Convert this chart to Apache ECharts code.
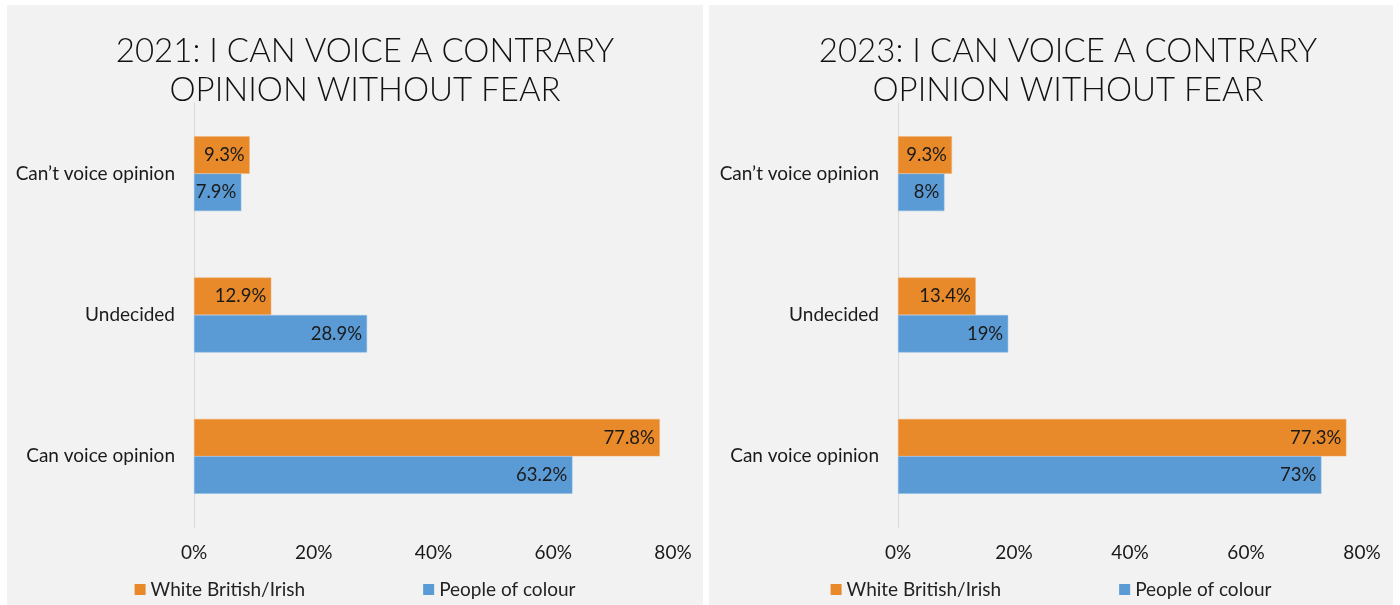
<!DOCTYPE html>
<html>
<head>
<meta charset="utf-8">
<script src="https://cdn.jsdelivr.net/npm/echarts@6/dist/echarts.min.js"></script>
<style>
  html, body { margin: 0; padding: 0; background: #ffffff; }
  body { width: 1400px; height: 605px; position: relative; overflow: hidden; }
  .panel { position: absolute; top: 5px; height: 600px; background: #f2f2f2; }
  #c2021 { left: 7px; width: 696px; }
  #c2023 { left: 709px; width: 684px; }
</style>
</head>
<body>
<div id="c2021" class="panel"></div>
<div id="c2023" class="panel"></div>
<script>
// Response categories, listed bottom to top along the category axis
const categories = ['Can voice opinion', 'Undecided', 'Can\u2019t voice opinion'];
const seriesNames = ['White British/Irish', 'People of colour'];
const xTicks = [0, 20, 40, 60, 80];

// Percentages per year, same order as categories
const white2021 = [77.8, 12.9, 9.3];
const colour2021 = [63.2, 28.9, 7.9];
const white2023 = [77.3, 13.4, 9.3];
const colour2023 = [73, 19, 8];

const ORANGE = '#e8892a';
const BLUE = '#5b9bd5';
const TEXT = '#1a1a1a';
const FONT = 'Lato, "Open Sans", sans-serif';

function buildOption(title, titleX, gridLeft, gridRight, white, colour) {
  const labelStyle = {
    show: true,
    position: 'insideRight',
    distance: 5,
    color: TEXT,
    fontFamily: FONT,
    fontSize: 18.5,
    formatter: p => p.value + '%'
  };
  return {
    backgroundColor: '#f2f2f2',
    animation: false,
    title: {
      text: title,
      left: titleX,
      top: 22,
      textAlign: 'center',
      textStyle: {
        fontFamily: 'Lato, "Open Sans", sans-serif',
        fontWeight: 300,
        fontSize: 33,
        lineHeight: 39,
        color: '#111111'
      }
    },
    legend: {
      data: seriesNames,
      bottom: 1,
      left: 'center',
      icon: 'rect',
      itemWidth: 11,
      itemHeight: 11,
      itemGap: 118,
      selectedMode: false,
      itemStyle: { borderWidth: 0 },
      textStyle: { fontFamily: FONT, fontSize: 19, color: '#222222' }
    },
    grid: { left: gridLeft, right: gridRight, top: 98, bottom: 78, containLabel: false },
    xAxis: {
      type: 'value',
      min: xTicks[0],
      max: xTicks[xTicks.length - 1],
      interval: xTicks[1] - xTicks[0],
      axisLine: { show: false },
      axisTick: { show: false },
      splitLine: { show: false },
      axisLabel: {
        margin: 16,
        color: TEXT,
        fontFamily: FONT,
        fontSize: 19,
        formatter: v => v + '%'
      }
    },
    yAxis: {
      type: 'category',
      data: categories,
      axisLine: { show: true, lineStyle: { color: '#d9d9d9', width: 1 } },
      axisTick: { show: false },
      axisLabel: {
        margin: 19,
        color: TEXT,
        fontFamily: FONT,
        fontSize: 19
      }
    },
    series: [
      {
        name: seriesNames[0],
        type: 'bar',
        data: white,
        barGap: '0%',
        barCategoryGap: '47%',
        itemStyle: { color: ORANGE, borderColor: '#f0b070', borderWidth: 0.5 },
        label: labelStyle
      },
      {
        name: seriesNames[1],
        type: 'bar',
        data: colour,
        barGap: '0%',
        barCategoryGap: '47%',
        itemStyle: { color: BLUE, borderColor: '#8fbbe3', borderWidth: 0.5 },
        label: labelStyle
      }
    ]
  };
}

const chart2021 = echarts.init(document.getElementById('c2021'), null, { renderer: 'canvas' });
chart2021.setOption(buildOption('2021: I CAN VOICE A CONTRARY\nOPINION WITHOUT FEAR', 353, 187, 30, white2021, colour2021));

const chart2023 = echarts.init(document.getElementById('c2023'), null, { renderer: 'canvas' });
chart2023.setOption(buildOption('2023: I CAN VOICE A CONTRARY\nOPINION WITHOUT FEAR', 354, 189, 31, white2023, colour2023));
</script>
</body>
</html>
